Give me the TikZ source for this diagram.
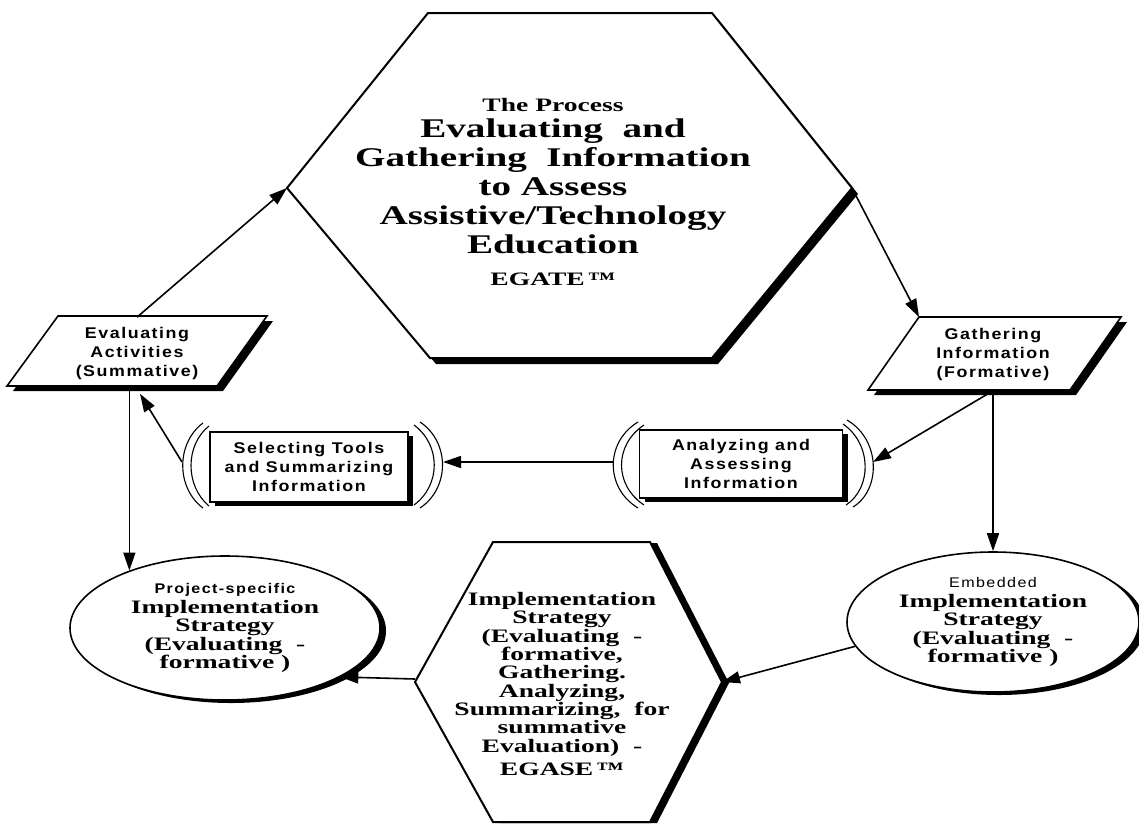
\documentclass[tikz,border=0pt]{standalone}
\usepackage{fontspec}
\setmainfont{Liberation Serif}
\newfontfamily\wideserif{Liberation Serif}[FakeStretch=1.45]
\newfontfamily\widesans{Liberation Sans}[FakeStretch=1.15,LetterSpace=10]
\usetikzlibrary{arrows.meta,shapes.geometric,shadows,calc}
\begin{document}
\begin{tikzpicture}[x=1pt,y=-1pt,
  line width=1.6pt,
  arr/.style={-{Triangle[length=18pt,width=12pt]}, line width=1.6pt},
  boxshadow/.style={drop shadow={shadow xshift=5pt,shadow yshift=-4pt,opacity=1,fill=black}},
  ellshadow/.style={drop shadow={shadow xshift=6pt,shadow yshift=-3pt,opacity=1,fill=black}},
  sanstext/.style={font=\widesans\bfseries\fontsize{15.5}{19}\selectfont, align=center},
  seriftext/.style={font=\wideserif\bfseries\fontsize{19}{18.3}\selectfont, align=center},
  bracket/.style={line width=1.1pt},
]
\useasboundingbox (0,0) rectangle (1139,825);
\fill[white] (0,0) rectangle (1139,825);

% ---------- big hexagon ----------
\fill[black,shift={(6,6)}] (428,13) -- (712,13) -- (852,188) -- (712,358) -- (430,358) -- (287,188) -- cycle;
\draw[fill=white,line width=2pt] (428,13) -- (712,13) -- (852,188) -- (712,358) -- (430,358) -- (287,188) -- cycle;
\coordinate (H1R) at (852,188);
\coordinate (H1L) at (287,188);
\node[font=\wideserif\bfseries\fontsize{27}{29}\selectfont, align=center] (proc) at (553,192)
  {{\fontsize{19}{20}\selectfont The Process}\\[-3pt]
   Evaluating~~and\\
   Gathering~~Information\\
   to Assess\\
   Assistive/Technology\\
   Education\\[3pt]
   {\fontsize{19}{20}\selectfont EGATE\,™}};

% ---------- Evaluating parallelogram ----------
\fill[black,shift={(6,5)}] (58,316) -- (267,316) -- (217,386) -- (7,386) -- cycle;
\draw[fill=white] (58,316) -- (267,316) -- (217,386) -- (7,386) -- cycle;
\node[sanstext, minimum width=200, minimum height=70] (evalbox) at (137,353)
  {Evaluating\\ Activities\\ (Summative)};

% ---------- Gathering parallelogram ----------
\fill[black,shift={(6,5)}] (919,317) -- (1121,317) -- (1070,390) -- (868,390) -- cycle;
\draw[fill=white] (919,317) -- (1121,317) -- (1070,390) -- (868,390) -- cycle;
\coordinate (gatTL) at (919,317);
\node[sanstext, minimum width=200, minimum height=72] (gatbox) at (993,354)
  {Gathering\\ Information\\ (Formative)};

% ---------- Selecting box with brackets ----------
\node[sanstext, draw, fill=white, boxshadow, minimum width=198, minimum height=70, inner sep=0] (selbox) at (309,467)
  {Selecting Tools\\ and Summarizing\\ Information};
\draw[bracket] (203,423) .. controls (176,443) and (176,488) .. (203,508);
\draw[bracket] (209,426) .. controls (185,445) and (185,486) .. (209,506);
\draw[bracket] (420,422) .. controls (450,442) and (450,488) .. (420,508);
\draw[bracket] (414,425) .. controls (441,445) and (441,485) .. (414,505);
\coordinate (selL) at (182,462);
\coordinate (selR) at (443,462);

% ---------- Analyzing box with brackets ----------
\node[sanstext, draw, fill=white, boxshadow, minimum width=203, minimum height=68, inner sep=0] (anabox) at (741,464)
  {Analyzing and\\ Assessing\\ Information};
\draw[bracket] (638,422) .. controls (605,442) and (605,488) .. (638,508);
\draw[bracket] (644,425) .. controls (614,445) and (614,485) .. (644,505);
\draw[bracket] (847,420) .. controls (881,440) and (881,490) .. (853,507);
\draw[bracket] (843,424) .. controls (872,444) and (872,488) .. (846,505);
\coordinate (anaL) at (613,462);
\coordinate (anaR) at (873,462);

% ---------- Ellipses ----------
\node[ellipse, draw, fill=white, ellshadow, minimum width=310, minimum height=144, inner sep=0,
      font=\wideserif\bfseries\fontsize{19}{18.5}\selectfont, align=center] (projell) at (225,628)
  {{\widesans\fontsize{14}{14}\selectfont Project-specific}\\[1pt]
   Implementation\\ Strategy\\ (Evaluating~~-\\ formative~)};
\node[ellipse, draw, fill=white, ellshadow, minimum width=292, minimum height=140, inner sep=0,
      font=\wideserif\bfseries\fontsize{19}{18.5}\selectfont, align=center] (embell) at (993,622)
  {{\widesans\mdseries\fontsize{14}{14}\selectfont Embedded}\\[1pt]
   Implementation\\ Strategy\\ (Evaluating~~-\\ formative~)};

% ---------- small hexagon ----------
\fill[black,shift={(7,1)}] (493,542) -- (650,542) -- (722,682) -- (650,822) -- (493,822) -- (415,682) -- cycle;
\draw[fill=white,line width=2pt] (493,542) -- (650,542) -- (722,682) -- (650,822) -- (493,822) -- (415,682) -- cycle;
\coordinate (H2R) at (722,682);
\coordinate (H2L) at (415,679);
\node[seriftext] (egase) at (562,684)
  {Implementation\\ Strategy\\ (Evaluating~~-\\ formative,\\ Gathering.\\ Analyzing,\\
   Summarizing,~~for\\ summative\\ Evaluation)~~-\\[5pt] EGASE\,™};

% ---------- connectors ----------
\draw[arr] (evalbox.north) -- (H1L);
\draw[arr] (H1R) -- (gatTL);
\draw[arr] (gatbox.south) -- (embell.north);
\draw[arr] (gatbox.south) -- (anaR);
\draw[arr] (anaL) -- (selR);
\draw[arr] (selL) -- ($(evalbox.south)+(3,5)$);
\draw[arr] (projell.149 |- evalbox.south) -- (projell.149);
\draw[arr] (embell.190) -- (H2R);
\draw[arr] (H2L) -- (projell.-23);
\end{tikzpicture}
\end{document}
